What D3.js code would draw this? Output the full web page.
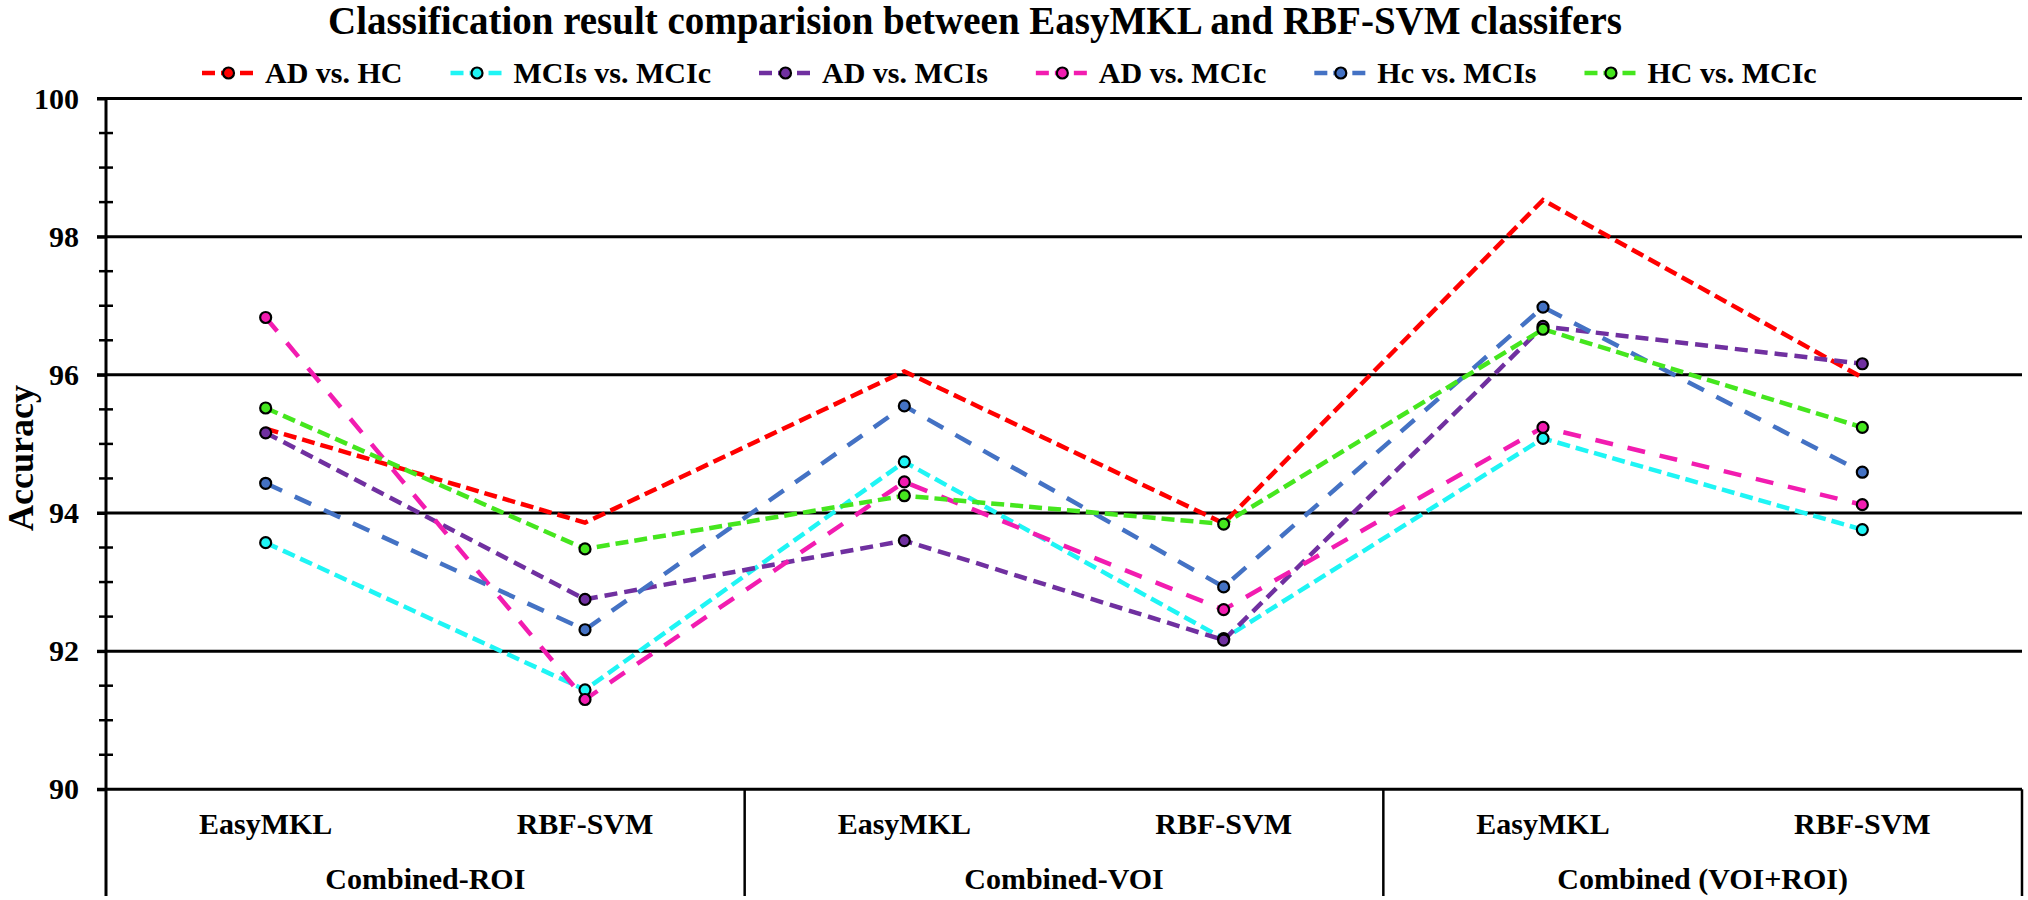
<!DOCTYPE html>
<html>
<head>
<meta charset="utf-8">
<script src="https://cdn.jsdelivr.net/npm/d3@7"></script>
<style>
  body { margin: 0; background: #fff; }
  text { font-family: "Liberation Serif", "Times New Roman", serif; font-weight: bold; fill: #000; }
</style>
</head>
<body>
<div id="chart"></div>
<script>
// data
const groups = ["Combined-ROI", "Combined-VOI", "Combined (VOI+ROI)"];
const methods = ["EasyMKL", "RBF-SVM"];
const seriesNames = ["AD vs. HC", "MCIs vs. MCIc", "AD vs. MCIs", "AD vs. MCIc", "Hc vs. MCIs", "HC vs. MCIc"];
const adHc     = [95.22, 93.86, 96.05, 93.85, 98.53, 95.96];
const mciSMciC = [93.57, 91.44, 94.74, 92.18, 95.08, 93.76];
const adMciS   = [95.16, 92.75, 93.60, 92.16, 96.70, 96.16];
const adMciC   = [96.83, 91.30, 94.45, 92.60, 95.24, 94.12];
const hcMciS   = [94.43, 92.31, 95.55, 92.93, 96.98, 94.59];
const hcMciC   = [95.52, 93.48, 94.25, 93.84, 96.66, 95.24];
const yTicks = [90, 92, 94, 96, 98, 100];

const seriesValues = [adHc, mciSMciC, adMciS, adMciC, hcMciS, hcMciC];
const colors = ["#ff0000", "#1ff5f5", "#7030a0", "#f21cb0", "#4472c4", "#45e61e"];
const dashes = ["13,6", "13,6", "13,7", "18,15", "18,14", "13,6"];
const showMarkers = [false, true, true, true, true, true];

const W = 2028, H = 900;
const plotLeft = 106, plotRight = 2022, plotTop = 98.5, plotBottom = 789.3, baseY = 896;

const svg = d3.select("#chart").append("svg")
    .attr("width", W)
    .attr("height", H);

// x: one point per group/method pair
const cats = [];
groups.forEach(g => methods.forEach(m => cats.push(g + "|" + m)));

const x = d3.scalePoint()
    .domain(cats)
    .range([plotLeft, plotRight])
    .padding(0.5);
const step = x.step();

const y = d3.scaleLinear()
    .domain([90, 100])
    .range([plotBottom, plotTop]);

// gridlines
svg.append("g")
    .selectAll("line")
    .data(yTicks)
    .enter().append("line")
    .attr("x1", plotLeft - 9)
    .attr("x2", plotRight)
    .attr("y1", d => y(d))
    .attr("y2", d => y(d))
    .attr("stroke", "#000")
    .attr("stroke-width", 3);

// minor ticks every 0.5
const minor = d3.range(90.5, 100, 0.5).filter(v => yTicks.indexOf(v) < 0);
svg.append("g")
    .selectAll("line")
    .data(minor)
    .enter().append("line")
    .attr("x1", plotLeft - 7)
    .attr("x2", plotLeft + 7)
    .attr("y1", d => y(d))
    .attr("y2", d => y(d))
    .attr("stroke", "#000")
    .attr("stroke-width", 2.5);

// y axis labels
const yAxis = svg.append("g")
    .attr("transform", `translate(${plotLeft},0)`)
    .call(d3.axisLeft(y).tickValues(yTicks).tickFormat(d3.format("d")).tickSize(9).tickPadding(18));
yAxis.select(".domain").remove();
yAxis.selectAll("line").attr("stroke-width", 3);
yAxis.selectAll("text")
    .style("font-family", '"Liberation Serif", "Times New Roman", serif')
    .style("font-weight", "bold")
    .style("font-size", "30px")
    .attr("fill", "#000");

// axis line and category separators
svg.append("line")
    .attr("x1", plotLeft).attr("x2", plotLeft)
    .attr("y1", plotTop).attr("y2", baseY)
    .attr("stroke", "#000").attr("stroke-width", 3);

const seps = groups.map(g => x(g + "|" + methods[methods.length - 1]) + step / 2);
svg.append("g")
    .selectAll("line")
    .data(seps)
    .enter().append("line")
    .attr("x1", d => d).attr("x2", d => d)
    .attr("y1", plotBottom).attr("y2", baseY)
    .attr("stroke", "#000").attr("stroke-width", 2.5);

// category labels
svg.append("g")
    .selectAll("text")
    .data(cats)
    .enter().append("text")
    .attr("x", d => x(d))
    .attr("y", 834)
    .attr("text-anchor", "middle")
    .style("font-size", "30px")
    .text(d => d.split("|")[1]);

svg.append("g")
    .selectAll("text")
    .data(groups)
    .enter().append("text")
    .attr("x", g => (x(g + "|" + methods[0]) + x(g + "|" + methods[1])) / 2)
    .attr("y", 889)
    .attr("text-anchor", "middle")
    .style("font-size", "30px")
    .text(g => g);

// series lines and markers
const line = d3.line()
    .x((d, i) => x(cats[i]))
    .y(d => y(d));

seriesValues.forEach((vals, s) => {
    svg.append("path")
        .datum(vals)
        .attr("d", line)
        .attr("fill", "none")
        .attr("stroke", colors[s])
        .attr("stroke-width", 4.5)
        .attr("stroke-dasharray", dashes[s]);
});

seriesValues.forEach((vals, s) => {
    if (!showMarkers[s]) return;
    svg.append("g")
        .selectAll("circle")
        .data(vals)
        .enter().append("circle")
        .attr("cx", (d, i) => x(cats[i]))
        .attr("cy", d => y(d))
        .attr("r", 5.5)
        .attr("fill", colors[s])
        .attr("stroke", "#000")
        .attr("stroke-width", 2.2);
});

// axis title
svg.append("text")
    .attr("transform", "translate(33,458) rotate(-90)")
    .attr("text-anchor", "middle")
    .style("font-size", "36px")
    .text("Accuracy");

// title
svg.append("text")
    .attr("x", 975)
    .attr("y", 34)
    .attr("text-anchor", "middle")
    .style("font-size", "39px")
    .text("Classification result comparision between EasyMKL and RBF-SVM classifers");

// legend
const legend = svg.append("g");
let lx = 202;
seriesNames.forEach((name, s) => {
    const item = legend.append("g").attr("transform", `translate(${lx},73)`);
    item.append("line")
        .attr("x1", 0).attr("x2", 53)
        .attr("stroke", colors[s])
        .attr("stroke-width", 4.5)
        .attr("stroke-dasharray", "13,6");
    item.append("circle")
        .attr("cx", 26.5)
        .attr("r", 5.5)
        .attr("fill", colors[s])
        .attr("stroke", "#000")
        .attr("stroke-width", 2.2);
    const t = item.append("text")
        .attr("x", 63)
        .attr("y", 10)
        .style("font-size", "30px")
        .text(name);
    lx += 63 + t.node().getComputedTextLength() + 48;
});
</script>
</body>
</html>
